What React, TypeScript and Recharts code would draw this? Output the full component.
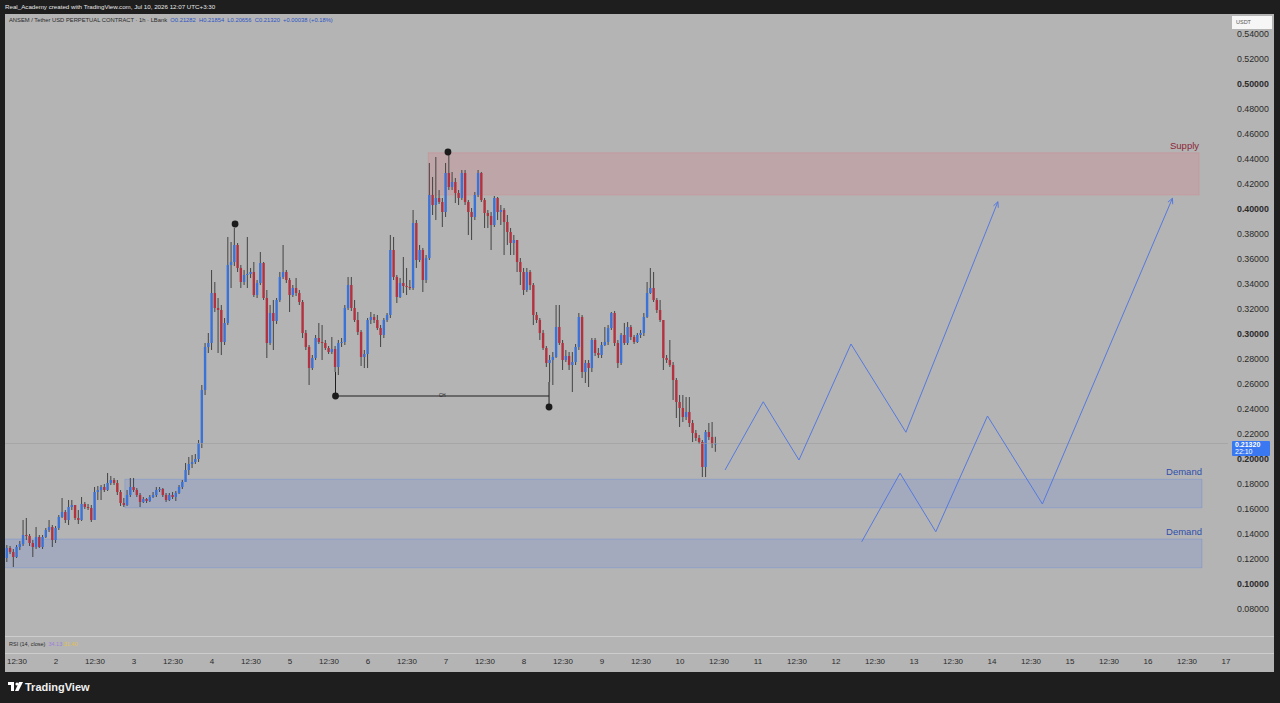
import React from 'react';
import {
  ComposedChart,
  Bar,
  Line,
  XAxis,
  YAxis,
  ReferenceArea,
  ReferenceLine,
  ReferenceDot,
} from 'recharts';

// ANSEM/USDT 1h candles (hour 0 = day 1 00:00)
const FIRST_HOUR = 9;
const firstOpen = 0.1216;

const closes = [
  0.1296, 0.1264, 0.1224, 0.1304, 0.1328, 0.1400, 0.1392, 0.1336, 0.1304, 0.1384, 0.1304, 0.1384,
  0.1440, 0.1464, 0.1360, 0.1456, 0.1544, 0.1584, 0.1520, 0.1624, 0.1640, 0.1536, 0.1520, 0.1648,
  0.1624, 0.1616, 0.1520, 0.1744, 0.1760, 0.1784, 0.1760, 0.1816, 0.1840, 0.1816, 0.1744, 0.1656,
  0.1640, 0.1720, 0.1784, 0.1760, 0.1720, 0.1664, 0.1688, 0.1672, 0.1704, 0.1720, 0.1760, 0.1768,
  0.1720, 0.1680, 0.1720, 0.1704, 0.1736, 0.1784, 0.1824, 0.1920, 0.1968, 0.1984, 0.2008, 0.2136,
  0.2560, 0.2904, 0.2936, 0.3336, 0.3216, 0.3200, 0.2944, 0.3096, 0.3560, 0.3584, 0.3720, 0.3536,
  0.3424, 0.3480, 0.3488, 0.3504, 0.3320, 0.3416, 0.3576, 0.3296, 0.2936, 0.3176, 0.3112, 0.3280,
  0.3464, 0.3504, 0.3440, 0.3320, 0.3376, 0.3336, 0.3264, 0.3016, 0.2904, 0.2736, 0.2816, 0.2976,
  0.2944, 0.2936, 0.2896, 0.2864, 0.2888, 0.2744, 0.2936, 0.2944, 0.3216, 0.3400, 0.3216, 0.3120,
  0.3024, 0.2824, 0.2848, 0.3120, 0.3144, 0.3120, 0.3056, 0.3000, 0.3120, 0.3160, 0.3680, 0.3464,
  0.3304, 0.3416, 0.3392, 0.3384, 0.3376, 0.3896, 0.3600, 0.3680, 0.3440, 0.3616, 0.4120, 0.4040,
  0.4096, 0.4064, 0.3984, 0.4296, 0.4184, 0.4224, 0.4136, 0.4096, 0.4296, 0.4064, 0.3984, 0.3944,
  0.4120, 0.4296, 0.4080, 0.3976, 0.3952, 0.3880, 0.4096, 0.3984, 0.4000, 0.3904, 0.3824, 0.3736,
  0.3760, 0.3584, 0.3504, 0.3360, 0.3504, 0.3400, 0.3160, 0.3120, 0.3016, 0.2896, 0.2776, 0.2800,
  0.2824, 0.3064, 0.2936, 0.2800, 0.2832, 0.2760, 0.2784, 0.2904, 0.3144, 0.2704, 0.2776, 0.2736,
  0.2960, 0.2856, 0.2840, 0.2920, 0.2944, 0.3056, 0.3176, 0.2936, 0.2776, 0.3000, 0.2936, 0.3064,
  0.2984, 0.2944, 0.3000, 0.3016, 0.3144, 0.3336, 0.3376, 0.3280, 0.3200, 0.3120, 0.2816, 0.2800,
  0.2760, 0.2640, 0.2464, 0.2416, 0.2344, 0.2384, 0.2296, 0.2216, 0.2176, 0.2144, 0.1944, 0.2224,
  0.2184, 0.21282, 0.2132,
];

const highs = [
  0.1320, 0.1312, 0.1288, 0.1320, 0.1352, 0.1520, 0.1536, 0.1408, 0.1360, 0.1464, 0.1400, 0.1400,
  0.1456, 0.1520, 0.1480, 0.1472, 0.1560, 0.1696, 0.1600, 0.1680, 0.1680, 0.1640, 0.1600, 0.1704,
  0.1664, 0.1648, 0.1640, 0.1784, 0.1792, 0.1800, 0.1808, 0.1896, 0.1872, 0.1856, 0.1840, 0.1760,
  0.1696, 0.1760, 0.1856, 0.1856, 0.1776, 0.1736, 0.1704, 0.1696, 0.1720, 0.1744, 0.1784, 0.1784,
  0.1776, 0.1736, 0.1736, 0.1744, 0.1752, 0.1800, 0.1840, 0.1976, 0.2024, 0.2040, 0.2048, 0.2160,
  0.2600, 0.2936, 0.3016, 0.3520, 0.3424, 0.3296, 0.3240, 0.3136, 0.3784, 0.3744, 0.3856, 0.3736,
  0.3560, 0.3520, 0.3784, 0.3536, 0.3584, 0.3440, 0.3664, 0.3584, 0.3360, 0.3240, 0.3280, 0.3296,
  0.3504, 0.3720, 0.3520, 0.3456, 0.3400, 0.3456, 0.3360, 0.3280, 0.3040, 0.2920, 0.2840, 0.3000,
  0.3096, 0.3080, 0.2960, 0.2912, 0.2984, 0.2912, 0.2960, 0.2976, 0.3240, 0.3464, 0.3464, 0.3280,
  0.3184, 0.3040, 0.2880, 0.3136, 0.3184, 0.3168, 0.3160, 0.3080, 0.3136, 0.3176, 0.3800, 0.3784,
  0.3480, 0.3456, 0.3624, 0.3536, 0.3440, 0.4000, 0.3920, 0.3720, 0.3696, 0.3640, 0.4376, 0.4264,
  0.4424, 0.4160, 0.4096, 0.4376, 0.4440, 0.4304, 0.4256, 0.4160, 0.4320, 0.4320, 0.4080, 0.4016,
  0.4144, 0.4320, 0.4304, 0.4096, 0.4000, 0.3984, 0.4112, 0.4104, 0.4040, 0.4016, 0.3960, 0.3856,
  0.3800, 0.3760, 0.3616, 0.3536, 0.3536, 0.3520, 0.3416, 0.3184, 0.3136, 0.3040, 0.2912, 0.2840,
  0.2864, 0.3240, 0.3240, 0.2960, 0.2880, 0.2864, 0.2864, 0.2928, 0.3176, 0.3160, 0.2800, 0.2800,
  0.2976, 0.2976, 0.2896, 0.2944, 0.3064, 0.3080, 0.3184, 0.3192, 0.2960, 0.3016, 0.3096, 0.3104,
  0.3080, 0.3000, 0.3016, 0.3040, 0.3176, 0.3424, 0.3536, 0.3504, 0.3296, 0.3280, 0.2984, 0.2840,
  0.2960, 0.2784, 0.2656, 0.2520, 0.2520, 0.2504, 0.2504, 0.2320, 0.2240, 0.2200, 0.2160, 0.2240,
  0.2296, 0.2304, 0.21854,
];

const lows = [
  0.1184, 0.1248, 0.1144, 0.1216, 0.1280, 0.1312, 0.1360, 0.1312, 0.1224, 0.1288, 0.1296, 0.1288,
  0.1376, 0.1424, 0.1304, 0.1336, 0.1440, 0.1536, 0.1496, 0.1480, 0.1600, 0.1520, 0.1488, 0.1512,
  0.1608, 0.1600, 0.1504, 0.1520, 0.1680, 0.1680, 0.1744, 0.1752, 0.1800, 0.1800, 0.1720, 0.1632,
  0.1624, 0.1632, 0.1704, 0.1744, 0.1704, 0.1624, 0.1656, 0.1656, 0.1664, 0.1696, 0.1704, 0.1744,
  0.1704, 0.1664, 0.1672, 0.1688, 0.1672, 0.1728, 0.1768, 0.1824, 0.1880, 0.1936, 0.1968, 0.1984,
  0.2096, 0.2520, 0.2856, 0.2880, 0.3184, 0.2856, 0.2840, 0.2920, 0.3080, 0.3376, 0.3552, 0.3504,
  0.3376, 0.3400, 0.3376, 0.3456, 0.3304, 0.3296, 0.3400, 0.3280, 0.2816, 0.2920, 0.2880, 0.3088,
  0.3264, 0.3448, 0.3416, 0.3184, 0.3304, 0.3312, 0.3240, 0.2976, 0.2880, 0.2600, 0.2720, 0.2800,
  0.2928, 0.2800, 0.2880, 0.2848, 0.2848, 0.2704, 0.2680, 0.2904, 0.2920, 0.3200, 0.3192, 0.3104,
  0.3000, 0.2752, 0.2736, 0.2736, 0.3088, 0.3096, 0.3040, 0.2904, 0.2976, 0.3104, 0.3136, 0.3440,
  0.3256, 0.3296, 0.3336, 0.3320, 0.3360, 0.3360, 0.3536, 0.3584, 0.3344, 0.3416, 0.3600, 0.3960,
  0.3920, 0.4048, 0.3864, 0.3944, 0.4160, 0.4160, 0.4056, 0.4040, 0.4080, 0.4040, 0.3800, 0.3760,
  0.3920, 0.4104, 0.4064, 0.3856, 0.3856, 0.3680, 0.3864, 0.3920, 0.3880, 0.3640, 0.3720, 0.3640,
  0.3640, 0.3504, 0.3400, 0.3320, 0.3344, 0.3360, 0.3080, 0.3096, 0.2960, 0.2880, 0.2744, 0.2624,
  0.2600, 0.2816, 0.2920, 0.2720, 0.2784, 0.2720, 0.2544, 0.2760, 0.2880, 0.2656, 0.2616, 0.2584,
  0.2704, 0.2832, 0.2816, 0.2816, 0.2912, 0.2920, 0.3040, 0.2912, 0.2736, 0.2760, 0.2920, 0.2920,
  0.2960, 0.2928, 0.2936, 0.2976, 0.2992, 0.3136, 0.3328, 0.3264, 0.3176, 0.3104, 0.2720, 0.2776,
  0.2744, 0.2480, 0.2336, 0.2264, 0.2304, 0.2320, 0.2264, 0.2144, 0.2152, 0.2128, 0.1864, 0.1864,
  0.2160, 0.2096, 0.20656,
];

// axis labels
const xTickLabels = [
  '12:30', '2', '12:30', '3', '12:30', '4', '12:30', '5', '12:30', '6', '12:30', '7', '12:30', '8',
  '12:30', '9', '12:30', '10', '12:30', '11', '12:30', '12', '12:30', '13', '12:30', '14', '12:30',
  '15', '12:30', '16', '12:30', '17',
];
const priceTicks = [
  0.08, 0.10, 0.12, 0.14, 0.16, 0.18, 0.20, 0.22, 0.24, 0.26, 0.28, 0.30,
  0.32, 0.34, 0.36, 0.38, 0.40, 0.42, 0.44, 0.46, 0.48, 0.50, 0.52, 0.54,
];

// drawings: [hour, price]
const supplyZone = { from: 138.5, to: 375.7, low: 0.412, high: 0.4458 };
const demandZones = [
  { from: 45.2, to: 376.6, low: 0.1618, high: 0.1846 },
  { from: 8.0, to: 376.6, low: 0.1138, high: 0.1368 },
];
const swingDots = [
  { h: 79.1, p: 0.3888 },
  { h: 144.6, p: 0.4464 },
  { h: 110, p: 0.2512 },
  { h: 175.7, p: 0.2424 },
];
const chLevel = { from: 110, to: 175.7, p: 0.2512 };
const chTicks = [
  { h: 110, from: 0.2704, to: 0.2512 },
  { h: 175.7, from: 0.2624, to: 0.2424 },
];
const pathA = [
  { h: 229.85, p: 0.192 },
  { h: 241.6, p: 0.2466 },
  { h: 252.6, p: 0.2 },
  { h: 268.6, p: 0.2928 },
  { h: 285.5, p: 0.2222 },
  { h: 313.8, p: 0.4066 },
];
const pathB = [
  { h: 271.9, p: 0.1346 },
  { h: 283.7, p: 0.1894 },
  { h: 294.7, p: 0.1426 },
  { h: 310.6, p: 0.2352 },
  { h: 327.5, p: 0.1648 },
  { h: 367.5, p: 0.4094 },
];
const lastPrice = 0.2132;

const FONT = '"Liberation Sans", Arial, sans-serif';
const BG = '#b4b4b4';
const BULL = '#3a72d8';
const BEAR = '#b3323f';
const WICK = '#444444';
const PROJ = '#5679df';
const X_DOMAIN = [8.31, 384.6];
const Y_DOMAIN = [0.0592, 0.5568];

// TradingView candles open at the previous close
const candles = closes.map((close, i) => {
  const open = i === 0 ? firstOpen : closes[i - 1];
  const high = Math.max(highs[i], open, close);
  const low = Math.min(lows[i], open, close);
  return { h: FIRST_HOUR + i, open, close, high, low, range: [low, high] };
});

const Candle = (props: any) => {
  const { x, y, width, height } = props;
  const d = props.payload ?? props;
  const top = Math.min(y, y + height);
  const bottom = Math.max(y, y + height);
  const span = d.high - d.low;
  const k = span > 0 ? (bottom - top) / span : 0;
  const toY = (v: number) => top + (d.high - v) * k;
  const cx = x + width / 2;
  const bTop = toY(Math.max(d.open, d.close));
  const bBot = toY(Math.min(d.open, d.close));
  return (
    <g>
      <line x1={cx} x2={cx} y1={top} y2={bottom} stroke={WICK} strokeWidth={1} />
      <rect
        x={cx - 1.2}
        y={bTop}
        width={2.4}
        height={Math.max(bBot - bTop, 1)}
        fill={d.close >= d.open ? BULL : BEAR}
      />
    </g>
  );
};

const arrowDot = (props: any) => {
  const { cx, cy, index, points } = props;
  if (!points || index !== points.length - 1) return <g key={`d-${index}`} />;
  const prev = points[index - 1];
  const ang = Math.atan2(cy - prev.y, cx - prev.x);
  const len = 6;
  const a1 = ang + Math.PI - 0.45;
  const a2 = ang + Math.PI + 0.45;
  return (
    <g key={`d-${index}`}>
      <line x1={cx} y1={cy} x2={cx + len * Math.cos(a1)} y2={cy + len * Math.sin(a1)} stroke={PROJ} strokeWidth={1} />
      <line x1={cx} y1={cy} x2={cx + len * Math.cos(a2)} y2={cy + len * Math.sin(a2)} stroke={PROJ} strokeWidth={1} />
    </g>
  );
};

const zoneLabel = (text: string, color: string) => (p: any) => {
  const vb = p.viewBox;
  if (!vb) return null;
  return (
    <text x={vb.x + vb.width} y={vb.y - 4} textAnchor="end" fill={color} fontSize={9.5} fontFamily={FONT}>
      {text}
    </text>
  );
};

const TimeTick = (p: any) => {
  const i = Math.round((p.payload.value - 12) / 12);
  return (
    <text x={p.x} y={p.y + 26} textAnchor="middle" dominantBaseline="middle" fontSize={8} fill="#2b2b2b" fontFamily={FONT}>
      {xTickLabels[i]}
    </text>
  );
};

const PriceTick = (p: any) => {
  const v = p.payload.value;
  const bold = Math.abs(v * 10 - Math.round(v * 10)) < 1e-6;
  return (
    <text x={p.x + 9} y={p.y} dominantBaseline="middle" fontSize={8.8} fill="#2b2b2b" fontWeight={bold ? 700 : 400} fontFamily={FONT}>
      {v.toFixed(5)}
    </text>
  );
};

const abs = (s: React.CSSProperties): React.CSSProperties => ({ position: 'absolute', ...s });

export default function App() {
  return (
    <div style={{ position: 'fixed', left: 0, top: 0, width: 1280, height: 703, background: '#1e1e1e', overflow: 'hidden', fontFamily: FONT }}>
      <div style={abs({ left: 5, top: 3, fontSize: 6.2, color: '#e8e8e8', whiteSpace: 'nowrap' })}>
        Real_Academy created with TradingView.com, Jul 10, 2026 12:07 UTC+3:30
      </div>

      <div style={abs({ left: 5, top: 14, width: 1269, height: 658, background: BG })}>
        <ComposedChart width={1269} height={658} data={candles} margin={{ top: 0, right: 0, bottom: 0, left: 0 }}>
          <XAxis
            dataKey="h"
            type="number"
            domain={X_DOMAIN}
            allowDataOverflow
            ticks={xTickLabels.map((_, i) => 12 + 12 * i)}
            interval={0}
            height={36}
            tickSize={0}
            tickMargin={0}
            axisLine={false}
            tickLine={false}
            tick={<TimeTick />}
          />
          <YAxis
            orientation="right"
            type="number"
            domain={Y_DOMAIN}
            allowDataOverflow
            ticks={priceTicks}
            interval={0}
            width={46}
            tickSize={0}
            tickMargin={0}
            axisLine={false}
            tickLine={false}
            tick={<PriceTick />}
          />

          <ReferenceArea
            x1={supplyZone.from}
            x2={supplyZone.to}
            y1={supplyZone.low}
            y2={supplyZone.high}
            fill="rgb(220,120,130)"
            fillOpacity={0.25}
            stroke="rgba(220,120,130,0.25)"
            ifOverflow="hidden"
            label={zoneLabel('Supply', '#8c2634')}
          />
          {demandZones.map((z, i) => (
            <ReferenceArea
              key={`dz-${i}`}
              x1={z.from}
              x2={z.to}
              y1={z.low}
              y2={z.high}
              fill="rgb(41,98,255)"
              fillOpacity={0.12}
              stroke="rgba(41,98,255,0.18)"
              ifOverflow="hidden"
              label={zoneLabel('Demand', '#2f4fae')}
            />
          ))}

          <ReferenceLine y={lastPrice} stroke="#9c9c9c" strokeWidth={0.6} />

          <ReferenceLine
            segment={[{ x: chLevel.from, y: chLevel.p }, { x: chLevel.to, y: chLevel.p }]}
            stroke="#1e1e1e"
            strokeWidth={1}
          />
          {chTicks.map((t, i) => (
            <ReferenceLine
              key={`cht-${i}`}
              segment={[{ x: t.h, y: t.from }, { x: t.h, y: t.to }]}
              stroke="#1e1e1e"
              strokeWidth={1}
            />
          ))}
          <ReferenceDot
            x={(chLevel.from + chLevel.to) / 2}
            y={chLevel.p}
            r={0}
            shape={(p: any) => (
              <text x={p.cx} y={p.cy - 0.5} textAnchor="middle" dominantBaseline="middle" fontSize={4.5} fill="#222" fontFamily={FONT}>
                CH
              </text>
            )}
          />

          <Bar dataKey="range" barSize={2.4} shape={<Candle />} isAnimationActive={false} />

          {swingDots.map((d, i) => (
            <ReferenceDot key={`sd-${i}`} x={d.h} y={d.p} r={3.4} fill="#1b1b1b" stroke="none" />
          ))}

          <Line data={pathA} dataKey="p" type="linear" stroke={PROJ} strokeWidth={1} dot={arrowDot} activeDot={false} isAnimationActive={false} />
          <Line data={pathB} dataKey="p" type="linear" stroke={PROJ} strokeWidth={1} dot={arrowDot} activeDot={false} isAnimationActive={false} />
        </ComposedChart>
      </div>

      {/* legend row */}
      <div style={abs({ left: 9, top: 17, fontSize: 5.8, color: '#2a2a2a', whiteSpace: 'nowrap' })}>
        ANSEM / Tether USD PERPETUAL CONTRACT · 1h · LBank{' '}
        <span style={{ color: '#2d55c4' }}>
          &nbsp;O0.21282&nbsp; H0.21854&nbsp; L0.20656&nbsp; C0.21320&nbsp; +0.00038 (+0.18%)
        </span>
      </div>

      {/* RSI pane strip */}
      <div style={abs({ left: 5, top: 635.5, width: 1269, height: 1, background: '#cdcdcd' })} />
      <div style={abs({ left: 5, top: 652.5, width: 1269, height: 1, background: '#cdcdcd' })} />
      <div style={abs({ left: 9, top: 640.5, fontSize: 5.5, color: '#2a2a2a', whiteSpace: 'nowrap' })}>
        RSI (14, close) <span style={{ color: '#9a80d8' }}>&nbsp;34.13</span>
        <span style={{ color: '#e2c24a' }}>&nbsp;31.40</span>
      </div>

      {/* price scale badges */}
      <div style={abs({ left: 1232, top: 16, width: 40, height: 13, background: '#f6f6f6', fontSize: 5.5, color: '#555', lineHeight: '13px', paddingLeft: 4, boxSizing: 'border-box' })}>
        USDT
      </div>
      <div style={abs({ left: 1232, top: 440.5, width: 38, height: 15, background: '#3a78f2', borderRadius: 1, color: '#fff', fontSize: 7, lineHeight: '7.5px', paddingLeft: 3, paddingTop: 0, boxSizing: 'border-box' })}>
        <div style={{ fontWeight: 700 }}>0.21320</div>
        <div>22:10</div>
      </div>

      {/* footer logo */}
      <svg style={abs({ left: 8, top: 682 })} width={16} height={10}>
        <rect x={0} y={0} width={6} height={3} fill="#fff" />
        <rect x={3} y={0} width={3} height={9} fill="#fff" />
        <circle cx={9} cy={2} r={1.6} fill="#fff" />
        <polygon points="11,0 15,0 10.5,9 7,9" fill="#fff" />
      </svg>
      <div style={abs({ left: 25, top: 680.5, fontSize: 11, fontWeight: 700, color: '#f0f0f0', whiteSpace: 'nowrap' })}>
        TradingView
      </div>
    </div>
  );
}
